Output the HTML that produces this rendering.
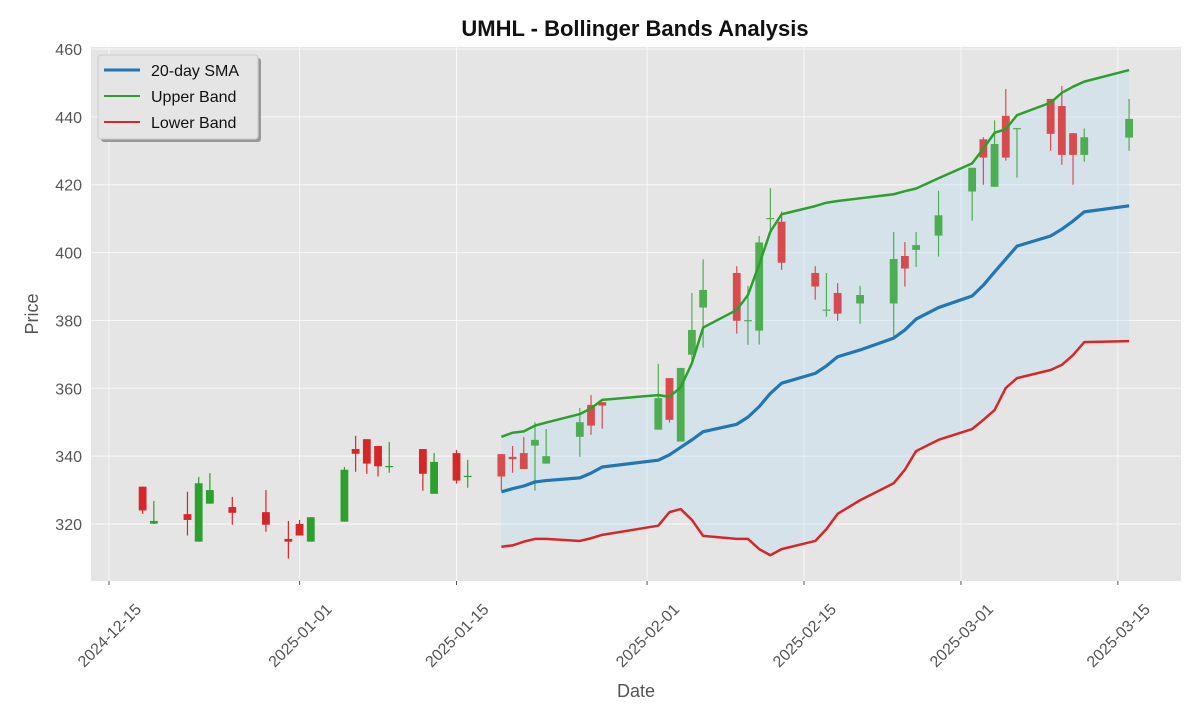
<!DOCTYPE html>
<html><head><meta charset="utf-8"><style>
html,body{margin:0;padding:0;background:#fff;}
svg{display:block;font-family:"Liberation Sans","DejaVu Sans",sans-serif;}
</style></head><body>
<svg id="chart" width="1200" height="720" viewBox="0 0 1200 720">
<rect x="0" y="0" width="1200" height="720" fill="#fff"/>
<text x="635" y="36" text-anchor="middle" font-size="22" font-weight="bold" fill="#111">UMHL - Bollinger Bands Analysis</text>
<rect x="91" y="47" width="1090" height="534" fill="#e5e5e5"/>
<g id="grid"></g><g id="band"></g><g id="candles"></g><g id="lines"></g><g id="axes"></g>
<text x="636" y="697" text-anchor="middle" font-size="18" fill="#555">Date</text>
<text transform="translate(38,314) rotate(-90)" text-anchor="middle" font-size="18" fill="#555">Price</text>
<g>
<rect x="101" y="58" width="160" height="84" rx="3" fill="#999"/>
<rect x="98" y="55" width="160" height="84" rx="3" fill="#e5e5e5" stroke="#ccc"/>
<line x1="104" y1="70" x2="140" y2="70" stroke="#1f77b4" stroke-width="3"/>
<text x="151" y="76" font-size="16" fill="#111">20-day SMA</text>
<line x1="104" y1="96" x2="140" y2="96" stroke="#2ca02c" stroke-width="2"/>
<text x="151" y="102" font-size="16" fill="#111">Upper Band</text>
<line x1="104" y1="122" x2="140" y2="122" stroke="#d62728" stroke-width="2"/>
<text x="151" y="128" font-size="16" fill="#111">Lower Band</text>
</g>
</svg>
<script>
// day offsets from 2024-12-15
const candleDays=[3,4,7,8,9,11,14,16,17,18,21,22,23,24,25,28,29,31,32,35,36,37,38,39,42,43,44,49,50,51,52,53,56,57,58,59,60,63,64,65,67,70,71,72,74,77,78,79,80,81,84,85,86,87,91];
const opens=[331,320.1,322.9,314.8,326,325,323.5,315.6,320,314.8,320.7,342.1,345,343,336.9,342.1,328.9,340.9,334,340.6,339.8,340.9,343.1,337.8,345.7,355.1,355.9,347.8,363,344.3,369.9,383.8,394,379.9,377,410,409.1,394,383,388.1,385,385,399,400.8,405,418,433.4,419.4,440.3,436.5,445.3,443.2,435.2,428.8,433.9];
const highs=[331,326.8,329.5,333.9,335,328,330,320.9,321.2,322,336.8,346,345,343,344.2,342.1,340.9,341.8,338.9,340.6,343,345.6,350,348,354.2,358,355.9,367.2,363,366,388.1,398,396,390.2,404.9,419,412.1,396,394,391,390.2,406.1,403.1,406.1,418.2,425,434,439,448.2,436.7,445.3,449.1,435.2,436.6,445.3];
const lows=[323,320,316.6,314.8,326,319.8,317.7,309.8,316.6,314.8,320.7,335.4,334.8,334,335.1,329.8,328.9,331.9,330.7,330,335.1,336.2,329.8,337.8,339.8,346.3,348.1,347.8,349.9,344.3,366.9,372,376.1,372.8,372.9,406.7,394.9,386.1,381.1,379.9,379,375,390,395.8,398.8,409.4,420,419.4,427.1,422.1,430,425.9,420,426.8,430];
const closes=[324,320.9,321.2,332,330,323.3,319.8,314.8,316.6,322,336,340.7,337.8,337,337.1,334.8,338.3,332.8,334.2,334,339.1,336.2,344.8,340,350,349,354.9,357.1,350.7,366,377.2,389,379.9,380.1,403,410.2,397,390,383.2,382,387.5,398.1,395.3,402.2,411,425,428,432,428,436.7,435,428.8,428.8,434,439.4];
const bandDays=[35,36,37,38,39,42,43,44,49,50,51,52,53,56,57,58,59,60,63,64,65,67,70,71,72,74,77,78,79,80,81,84,85,86,87,91];
const sma=[329.5,330.4,331.2,332.4,332.8,333.6,335.0,336.8,338.8,340.4,342.6,344.8,347.2,349.4,351.5,354.6,358.5,361.5,364.4,366.6,369.3,371.3,374.8,377.2,380.4,383.8,387.2,390.4,394.3,398.1,401.9,404.9,406.9,409.3,412,413.8];
const upper=[345.7,346.9,347.3,349.0,349.9,352.4,354.1,356.6,358.0,357.5,360.3,367.4,377.9,383.1,387.5,396.5,406.2,411.3,413.7,414.7,415.2,416.0,417.2,418.1,418.9,421.9,426.3,430.7,435.3,436.4,440.5,444.2,447.1,448.9,450.4,453.8];
const lower=[313.3,313.7,314.8,315.6,315.6,315.0,315.8,316.8,319.5,323.5,324.4,321.2,316.5,315.6,315.6,312.6,310.8,312.6,315.0,318.5,323.0,327.0,332.0,336.0,341.5,344.8,348.0,350.7,353.6,360.1,363.0,365.4,366.9,369.8,373.6,373.9];
const yTicks=[320,340,360,380,400,420,440,460];
const xTickDays=[0,17,31,48,62,76,90];
const xTickLabels=["2024-12-15","2025-01-01","2025-01-15","2025-02-01","2025-02-15","2025-03-01","2025-03-15"];

const NS="http://www.w3.org/2000/svg";
const L=91,R=1181,T=47,B=581;
const dMin=-1.606,dMax=95.63,pMin=303.2,pMax=460.6;
function xs(d){return L+(d-dMin)/(dMax-dMin)*(R-L);}
function ys(p){return B-(p-pMin)/(pMax-pMin)*(B-T);}
function mk(tag,attrs,parent){const e=document.createElementNS(NS,tag);for(const k in attrs)e.setAttribute(k,attrs[k]);parent.appendChild(e);return e;}
const grid=document.getElementById('grid'),axes=document.getElementById('axes');
yTicks.forEach(v=>{
  const g=mk('line',{x1:L,x2:R,y1:ys(v),y2:ys(v),stroke:'#fff','stroke-width':1,opacity:0.7},grid);
  
  
  const t=mk('text',{x:L-9,y:ys(v)+6,'text-anchor':'end','font-size':16,fill:'#555'},axes);
  t.textContent=v;
  
  
});
xTickDays.forEach((d,i)=>{
  const x=xs(d);
  const g=mk('line',{x1:x,x2:x,y1:T,y2:B,stroke:'#fff','stroke-width':1,opacity:0.7},grid);
  
  
  const tk=mk('line',{x1:x,x2:x,y1:B,y2:B+4,stroke:'#555'},axes);
  
  
  const t=mk('text',{x:x,y:641,'text-anchor':'middle','font-size':16,fill:'#555',transform:`rotate(-45 ${x} 635)`},axes);
  t.textContent=xTickLabels[i];
  
  
});
// band fill
let pts=bandDays.map((d,i)=>xs(d)+','+ys(upper[i]));
for(let i=bandDays.length-1;i>=0;i--)pts.push(xs(bandDays[i])+','+ys(lower[i]));
const band=mk('polygon',{points:pts.join(' '),fill:'rgb(179,219,246)','fill-opacity':0.3},document.getElementById('band'));


// candles
const cg=document.getElementById('candles');
candleDays.forEach((d,i)=>{
  const up=closes[i]>=opens[i];
  const col=up?'#2ca02c':'#d62728';
  const x=xs(d),w=7.8;
  const grp=mk('g',{opacity:d>=35?0.8:1},cg);
  
  
  const wk=mk('line',{x1:x,x2:x,y1:ys(highs[i]),y2:ys(lows[i]),stroke:col,'stroke-width':1.2},grp);
  
  
  const top=ys(Math.max(opens[i],closes[i])),bot=ys(Math.min(opens[i],closes[i]));
  const bd=mk('rect',{x:x-w/2,y:top,width:w,height:Math.max(bot-top,1.2),fill:col},grp);
  
  
});
const lg=document.getElementById('lines');
function line(arr,col,wd,name){
  const p=mk('polyline',{points:bandDays.map((d,i)=>xs(d)+','+ys(arr[i])).join(' '),fill:'none',stroke:col,'stroke-width':wd,'stroke-linejoin':'round'},lg);
  
  
}
line(upper,'#2ca02c',2.5,'upper-band-line');
line(lower,'#d62728',2.5,'lower-band-line');
line(sma,'#1f77b4',3.2,'sma-line');
</script>
</body></html>
